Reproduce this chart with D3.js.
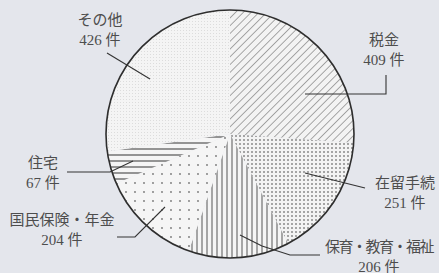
<!DOCTYPE html>
<html>
<head>
<meta charset="utf-8">
<script src="https://cdn.jsdelivr.net/npm/d3@7"></script>
<style>
  body { margin: 0; background: #e4e6ec; }
  text { font-family: "Liberation Serif", "Noto Sans CJK JP", serif; fill: #4d4d4d; font-size: 15px; }
</style>
</head>
<body>
<div id="chart"></div>
<script>
// data, clockwise from 12 o'clock
var categories = ["税金", "在留手続", "保育・教育・福祉", "国民保険・年金", "住宅", "その他"];
var counts = [409, 251, 206, 204, 67, 426];
var fills = ["hatch", "dense", "vlines", "sparse", "hlines", "fine"];

var svgWidth = 439;
var svgHeight = 273;
var cx = 230, cy = 134, radius = 124;

var svg = d3.select("#chart")
    .append("svg")
    .attr("width", svgWidth)
    .attr("height", svgHeight);

var defs = svg.append("defs");

// diagonal hatching
var p = defs.append("pattern").attr("id", "hatch")
    .attr("patternUnits", "userSpaceOnUse")
    .attr("width", 5.5).attr("height", 5.5)
    .attr("patternTransform", "rotate(45)");
p.append("rect").attr("width", 5.5).attr("height", 5.5).attr("fill", "#f3f3f3");
p.append("line").attr("x1", 0).attr("y1", 0).attr("x2", 0).attr("y2", 5.5)
    .attr("stroke", "#5a5a5a").attr("stroke-width", 1);

// dense dots
p = defs.append("pattern").attr("id", "dense")
    .attr("patternUnits", "userSpaceOnUse")
    .attr("width", 4).attr("height", 4);
p.append("rect").attr("width", 4).attr("height", 4).attr("fill", "#f3f3f3");
p.append("circle").attr("cx", 2).attr("cy", 2).attr("r", 1).attr("fill", "#8a8a8a");

// vertical lines
p = defs.append("pattern").attr("id", "vlines")
    .attr("patternUnits", "userSpaceOnUse")
    .attr("width", 5).attr("height", 5);
p.append("rect").attr("width", 5).attr("height", 5).attr("fill", "#f5f5f5");
p.append("line").attr("x1", 2).attr("y1", 0).attr("x2", 2).attr("y2", 5)
    .attr("stroke", "#555").attr("stroke-width", 1);

// sparse dots
p = defs.append("pattern").attr("id", "sparse")
    .attr("patternUnits", "userSpaceOnUse")
    .attr("width", 9).attr("height", 9);
p.append("rect").attr("width", 9).attr("height", 9).attr("fill", "#f5f5f5");
p.append("circle").attr("cx", 4).attr("cy", 4).attr("r", 0.9).attr("fill", "#777");

// horizontal lines
p = defs.append("pattern").attr("id", "hlines")
    .attr("patternUnits", "userSpaceOnUse")
    .attr("width", 6).attr("height", 6);
p.append("rect").attr("width", 6).attr("height", 6).attr("fill", "#f5f5f5");
p.append("line").attr("x1", 0).attr("y1", 3).attr("x2", 6).attr("y2", 3)
    .attr("stroke", "#444").attr("stroke-width", 1.1);

// fine light speckle
p = defs.append("pattern").attr("id", "fine")
    .attr("patternUnits", "userSpaceOnUse")
    .attr("width", 3).attr("height", 3);
p.append("rect").attr("width", 3).attr("height", 3).attr("fill", "#f4f4f4");
p.append("rect").attr("x", 1).attr("y", 1).attr("width", 1).attr("height", 1).attr("fill", "#dcdcdc");

var data = categories.map(function(c, i) {
    return { name: c, count: counts[i], fill: fills[i] };
});

var pie = d3.pie().sort(null).value(d => d.count);
var arc = d3.arc().innerRadius(0).outerRadius(radius);

var chartGroup = svg.append("g")
    .attr("transform", `translate(${cx}, ${cy})`);

chartGroup.selectAll("path.slice")
    .data(pie(data))
    .enter()
    .append("path")
    .attr("class", "slice")
    .attr("d", arc)
    .attr("fill", d => `url(#${d.data.fill})`);

chartGroup.append("circle")
    .attr("r", radius)
    .attr("fill", "none")
    .attr("stroke", "#2e2e2e")
    .attr("stroke-width", 1.6);

// labels: text centre / baseline and leader polyline (page coordinates)
var labelLayout = [
    { x: 384, y: 45, leader: [[305, 94], [386, 94], [386, 75]] },
    { x: 405, y: 188, leader: [[305, 173], [365, 188]] },
    { x: 379, y: 252, leader: [[240, 235], [262, 246], [290, 255], [320, 255]] },
    { x: 62, y: 225, leader: [[117, 237], [135, 237], [165, 207]] },
    { x: 43, y: 168, leader: [[67, 172], [110, 172], [133, 161]] },
    { x: 100, y: 25, leader: [[107, 53], [150, 79]] }
];

var line = d3.line();

data.forEach(function(d, i) {
    var lay = labelLayout[i];
    svg.append("path")
        .attr("d", line(lay.leader))
        .attr("fill", "none")
        .attr("stroke", "#333")
        .attr("stroke-width", 1.1);
    var t = svg.append("text")
        .attr("text-anchor", "middle")
        .attr("x", lay.x)
        .attr("y", lay.y);
    // long name is set tighter, as in the original
    t.append("tspan").attr("x", lay.x)
        .style("letter-spacing", d.name.length > 7 ? "-1.5px" : null)
        .text(d.name);
    t.append("tspan").attr("x", lay.x).attr("dy", "1.3em").text(d.count + " 件");
});
</script>
</body>
</html>
